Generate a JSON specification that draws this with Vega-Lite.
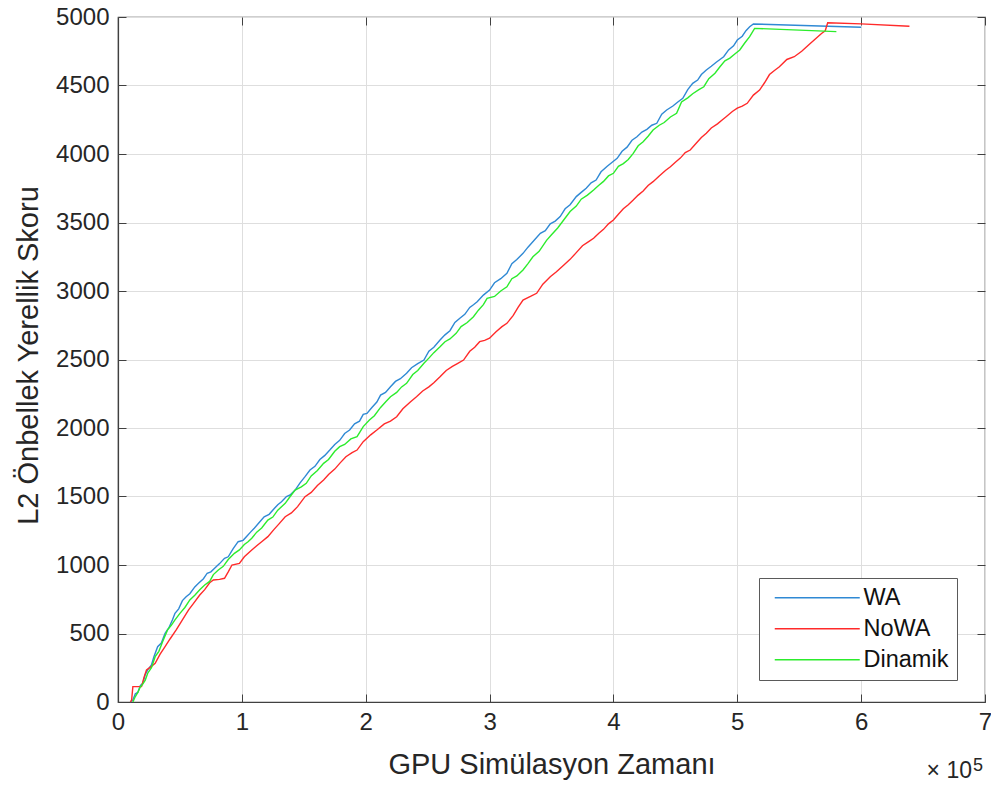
{
  "$schema": "https://vega.github.io/schema/vega-lite/v6.json",
  "width": 867,
  "height": 685,
  "autosize": {"type": "none"},
  "padding": {"left": 118, "top": 17, "right": 6, "bottom": 85},
  "background": "white",
  "config": {
    "view": {"stroke": "#404040", "strokeWidth": 1.2},
    "font": "Liberation Sans",
    "axis": {
      "labelFont": "Liberation Sans",
      "labelFontSize": 24,
      "labelColor": "#262626",
      "titleFont": "Liberation Sans",
      "titleFontSize": 29,
      "titleFontWeight": "normal",
      "titleColor": "#262626",
      "domainColor": "#404040",
      "domainWidth": 1.2,
      "tickColor": "#404040",
      "tickWidth": 1,
      "tickSize": -8,
      "gridColor": "#dedede",
      "gridWidth": 1
    },
    "legend": {
      "orient": "none",
      "legendX": 641,
      "legendY": 561,
      "padding": 8,
      "strokeColor": "#5a5a5a",
      "fillColor": "white",
      "symbolType": "M-1,0H16",
      "symbolSize": 100,
      "symbolStrokeWidth": 1.5,
      "symbolOffset": 1,
      "labelOffset": 72,
      "labelFont": "Liberation Sans",
      "labelFontSize": 23.5,
      "labelColor": "#111111",
      "rowPadding": 6,
      "cornerRadius": 0
    }
  },
  "datasets": {
    "series": [
      {"s":"WA","x":0.10,"y":0},{"s":"WA","x":0.12,"y":15},{"s":"WA","x":0.14,"y":60},{"s":"WA","x":0.16,"y":70},{"s":"WA","x":0.18,"y":120},{"s":"WA","x":0.20,"y":136},{"s":"WA","x":0.22,"y":200},{"s":"WA","x":0.24,"y":234},{"s":"WA","x":0.27,"y":270},{"s":"WA","x":0.29,"y":330},{"s":"WA","x":0.32,"y":404},{"s":"WA","x":0.35,"y":430},{"s":"WA","x":0.38,"y":501},{"s":"WA","x":0.41,"y":540},{"s":"WA","x":0.44,"y":600},{"s":"WA","x":0.46,"y":647},{"s":"WA","x":0.49,"y":680},{"s":"WA","x":0.52,"y":740},{"s":"WA","x":0.55,"y":769},{"s":"WA","x":0.58,"y":790},{"s":"WA","x":0.62,"y":840},{"s":"WA","x":0.65,"y":866},{"s":"WA","x":0.69,"y":900},{"s":"WA","x":0.72,"y":940},{"s":"WA","x":0.75,"y":950},{"s":"WA","x":0.78,"y":976},{"s":"WA","x":0.82,"y":1010},{"s":"WA","x":0.86,"y":1049},{"s":"WA","x":0.89,"y":1060},{"s":"WA","x":0.93,"y":1120},{"s":"WA","x":0.97,"y":1170},{"s":"WA","x":1.01,"y":1180},{"s":"WA","x":1.04,"y":1210},{"s":"WA","x":1.07,"y":1240},{"s":"WA","x":1.10,"y":1268},{"s":"WA","x":1.14,"y":1310},{"s":"WA","x":1.18,"y":1352},{"s":"WA","x":1.22,"y":1370},{"s":"WA","x":1.26,"y":1410},{"s":"WA","x":1.29,"y":1440},{"s":"WA","x":1.32,"y":1462},{"s":"WA","x":1.36,"y":1500},{"s":"WA","x":1.39,"y":1511},{"s":"WA","x":1.43,"y":1547},{"s":"WA","x":1.47,"y":1600},{"s":"WA","x":1.51,"y":1645},{"s":"WA","x":1.55,"y":1693},{"s":"WA","x":1.59,"y":1720},{"s":"WA","x":1.63,"y":1770},{"s":"WA","x":1.67,"y":1800},{"s":"WA","x":1.71,"y":1839},{"s":"WA","x":1.75,"y":1880},{"s":"WA","x":1.79,"y":1910},{"s":"WA","x":1.83,"y":1960},{"s":"WA","x":1.87,"y":1985},{"s":"WA","x":1.91,"y":2030},{"s":"WA","x":1.95,"y":2050},{"s":"WA","x":1.98,"y":2100},{"s":"WA","x":2.01,"y":2107},{"s":"WA","x":2.05,"y":2150},{"s":"WA","x":2.09,"y":2190},{"s":"WA","x":2.12,"y":2240},{"s":"WA","x":2.16,"y":2260},{"s":"WA","x":2.20,"y":2301},{"s":"WA","x":2.24,"y":2340},{"s":"WA","x":2.28,"y":2360},{"s":"WA","x":2.33,"y":2399},{"s":"WA","x":2.37,"y":2440},{"s":"WA","x":2.42,"y":2470},{"s":"WA","x":2.47,"y":2496},{"s":"WA","x":2.51,"y":2560},{"s":"WA","x":2.55,"y":2590},{"s":"WA","x":2.60,"y":2642},{"s":"WA","x":2.64,"y":2680},{"s":"WA","x":2.68,"y":2710},{"s":"WA","x":2.72,"y":2770},{"s":"WA","x":2.76,"y":2801},{"s":"WA","x":2.80,"y":2830},{"s":"WA","x":2.84,"y":2880},{"s":"WA","x":2.87,"y":2900},{"s":"WA","x":2.90,"y":2922},{"s":"WA","x":2.95,"y":2970},{"s":"WA","x":3.00,"y":3007},{"s":"WA","x":3.04,"y":3060},{"s":"WA","x":3.09,"y":3090},{"s":"WA","x":3.14,"y":3129},{"s":"WA","x":3.18,"y":3200},{"s":"WA","x":3.22,"y":3230},{"s":"WA","x":3.27,"y":3275},{"s":"WA","x":3.31,"y":3320},{"s":"WA","x":3.36,"y":3370},{"s":"WA","x":3.41,"y":3421},{"s":"WA","x":3.45,"y":3440},{"s":"WA","x":3.49,"y":3490},{"s":"WA","x":3.53,"y":3510},{"s":"WA","x":3.57,"y":3543},{"s":"WA","x":3.61,"y":3600},{"s":"WA","x":3.65,"y":3630},{"s":"WA","x":3.70,"y":3689},{"s":"WA","x":3.74,"y":3720},{"s":"WA","x":3.78,"y":3750},{"s":"WA","x":3.82,"y":3790},{"s":"WA","x":3.86,"y":3810},{"s":"WA","x":3.90,"y":3870},{"s":"WA","x":3.95,"y":3910},{"s":"WA","x":3.99,"y":3940},{"s":"WA","x":4.03,"y":3968},{"s":"WA","x":4.07,"y":4020},{"s":"WA","x":4.11,"y":4050},{"s":"WA","x":4.15,"y":4100},{"s":"WA","x":4.19,"y":4126},{"s":"WA","x":4.23,"y":4160},{"s":"WA","x":4.27,"y":4180},{"s":"WA","x":4.31,"y":4210},{"s":"WA","x":4.35,"y":4224},{"s":"WA","x":4.39,"y":4290},{"s":"WA","x":4.43,"y":4321},{"s":"WA","x":4.48,"y":4350},{"s":"WA","x":4.52,"y":4380},{"s":"WA","x":4.56,"y":4406},{"s":"WA","x":4.60,"y":4470},{"s":"WA","x":4.64,"y":4516},{"s":"WA","x":4.68,"y":4540},{"s":"WA","x":4.71,"y":4580},{"s":"WA","x":4.75,"y":4613},{"s":"WA","x":4.79,"y":4640},{"s":"WA","x":4.83,"y":4670},{"s":"WA","x":4.86,"y":4690},{"s":"WA","x":4.89,"y":4710},{"s":"WA","x":4.93,"y":4760},{"s":"WA","x":4.97,"y":4790},{"s":"WA","x":5.00,"y":4832},{"s":"WA","x":5.04,"y":4860},{"s":"WA","x":5.07,"y":4900},{"s":"WA","x":5.10,"y":4929},{"s":"WA","x":5.13,"y":4949},{"s":"WA","x":6.00,"y":4925},
      {"s":"NoWA","x":0.10,"y":0},{"s":"NoWA","x":0.11,"y":15},{"s":"NoWA","x":0.12,"y":112},{"s":"NoWA","x":0.19,"y":112},{"s":"NoWA","x":0.21,"y":180},{"s":"NoWA","x":0.23,"y":234},{"s":"NoWA","x":0.27,"y":260},{"s":"NoWA","x":0.30,"y":282},{"s":"NoWA","x":0.34,"y":350},{"s":"NoWA","x":0.38,"y":404},{"s":"NoWA","x":0.42,"y":460},{"s":"NoWA","x":0.47,"y":526},{"s":"NoWA","x":0.52,"y":600},{"s":"NoWA","x":0.57,"y":672},{"s":"NoWA","x":0.61,"y":720},{"s":"NoWA","x":0.66,"y":781},{"s":"NoWA","x":0.70,"y":820},{"s":"NoWA","x":0.74,"y":870},{"s":"NoWA","x":0.77,"y":891},{"s":"NoWA","x":0.82,"y":895},{"s":"NoWA","x":0.86,"y":903},{"s":"NoWA","x":0.89,"y":950},{"s":"NoWA","x":0.92,"y":1000},{"s":"NoWA","x":0.98,"y":1012},{"s":"NoWA","x":1.02,"y":1060},{"s":"NoWA","x":1.08,"y":1109},{"s":"NoWA","x":1.12,"y":1140},{"s":"NoWA","x":1.16,"y":1170},{"s":"NoWA","x":1.21,"y":1207},{"s":"NoWA","x":1.26,"y":1260},{"s":"NoWA","x":1.30,"y":1300},{"s":"NoWA","x":1.35,"y":1352},{"s":"NoWA","x":1.40,"y":1380},{"s":"NoWA","x":1.45,"y":1426},{"s":"NoWA","x":1.51,"y":1499},{"s":"NoWA","x":1.56,"y":1530},{"s":"NoWA","x":1.61,"y":1580},{"s":"NoWA","x":1.66,"y":1620},{"s":"NoWA","x":1.70,"y":1660},{"s":"NoWA","x":1.75,"y":1700},{"s":"NoWA","x":1.79,"y":1742},{"s":"NoWA","x":1.84,"y":1790},{"s":"NoWA","x":1.89,"y":1820},{"s":"NoWA","x":1.93,"y":1839},{"s":"NoWA","x":1.98,"y":1900},{"s":"NoWA","x":2.04,"y":1950},{"s":"NoWA","x":2.09,"y":1985},{"s":"NoWA","x":2.15,"y":2030},{"s":"NoWA","x":2.20,"y":2050},{"s":"NoWA","x":2.25,"y":2082},{"s":"NoWA","x":2.30,"y":2140},{"s":"NoWA","x":2.36,"y":2190},{"s":"NoWA","x":2.41,"y":2228},{"s":"NoWA","x":2.46,"y":2270},{"s":"NoWA","x":2.51,"y":2300},{"s":"NoWA","x":2.55,"y":2330},{"s":"NoWA","x":2.60,"y":2374},{"s":"NoWA","x":2.65,"y":2420},{"s":"NoWA","x":2.70,"y":2450},{"s":"NoWA","x":2.74,"y":2470},{"s":"NoWA","x":2.79,"y":2496},{"s":"NoWA","x":2.84,"y":2560},{"s":"NoWA","x":2.88,"y":2590},{"s":"NoWA","x":2.92,"y":2630},{"s":"NoWA","x":2.96,"y":2640},{"s":"NoWA","x":3.00,"y":2655},{"s":"NoWA","x":3.05,"y":2700},{"s":"NoWA","x":3.10,"y":2740},{"s":"NoWA","x":3.14,"y":2764},{"s":"NoWA","x":3.19,"y":2820},{"s":"NoWA","x":3.23,"y":2880},{"s":"NoWA","x":3.27,"y":2934},{"s":"NoWA","x":3.33,"y":2960},{"s":"NoWA","x":3.38,"y":2983},{"s":"NoWA","x":3.43,"y":3050},{"s":"NoWA","x":3.49,"y":3104},{"s":"NoWA","x":3.54,"y":3140},{"s":"NoWA","x":3.60,"y":3190},{"s":"NoWA","x":3.65,"y":3231},{"s":"NoWA","x":3.70,"y":3280},{"s":"NoWA","x":3.75,"y":3330},{"s":"NoWA","x":3.80,"y":3360},{"s":"NoWA","x":3.84,"y":3385},{"s":"NoWA","x":3.88,"y":3420},{"s":"NoWA","x":3.92,"y":3450},{"s":"NoWA","x":3.96,"y":3490},{"s":"NoWA","x":4.00,"y":3518},{"s":"NoWA","x":4.04,"y":3560},{"s":"NoWA","x":4.08,"y":3600},{"s":"NoWA","x":4.12,"y":3630},{"s":"NoWA","x":4.16,"y":3664},{"s":"NoWA","x":4.20,"y":3700},{"s":"NoWA","x":4.24,"y":3730},{"s":"NoWA","x":4.28,"y":3770},{"s":"NoWA","x":4.32,"y":3798},{"s":"NoWA","x":4.37,"y":3840},{"s":"NoWA","x":4.42,"y":3880},{"s":"NoWA","x":4.46,"y":3907},{"s":"NoWA","x":4.50,"y":3940},{"s":"NoWA","x":4.54,"y":3970},{"s":"NoWA","x":4.58,"y":4010},{"s":"NoWA","x":4.62,"y":4029},{"s":"NoWA","x":4.67,"y":4080},{"s":"NoWA","x":4.71,"y":4120},{"s":"NoWA","x":4.75,"y":4151},{"s":"NoWA","x":4.79,"y":4190},{"s":"NoWA","x":4.84,"y":4220},{"s":"NoWA","x":4.88,"y":4250},{"s":"NoWA","x":4.91,"y":4272},{"s":"NoWA","x":4.96,"y":4310},{"s":"NoWA","x":5.00,"y":4335},{"s":"NoWA","x":5.04,"y":4350},{"s":"NoWA","x":5.08,"y":4370},{"s":"NoWA","x":5.13,"y":4430},{"s":"NoWA","x":5.18,"y":4467},{"s":"NoWA","x":5.22,"y":4520},{"s":"NoWA","x":5.26,"y":4580},{"s":"NoWA","x":5.30,"y":4610},{"s":"NoWA","x":5.34,"y":4637},{"s":"NoWA","x":5.40,"y":4690},{"s":"NoWA","x":5.46,"y":4710},{"s":"NoWA","x":5.52,"y":4750},{"s":"NoWA","x":5.58,"y":4800},{"s":"NoWA","x":5.63,"y":4840},{"s":"NoWA","x":5.68,"y":4880},{"s":"NoWA","x":5.71,"y":4900},{"s":"NoWA","x":5.73,"y":4958},{"s":"NoWA","x":6.00,"y":4950},{"s":"NoWA","x":6.39,"y":4932},
      {"s":"Dinamik","x":0.12,"y":0},{"s":"Dinamik","x":0.14,"y":40},{"s":"Dinamik","x":0.16,"y":70},{"s":"Dinamik","x":0.18,"y":110},{"s":"Dinamik","x":0.20,"y":130},{"s":"Dinamik","x":0.22,"y":160},{"s":"Dinamik","x":0.24,"y":210},{"s":"Dinamik","x":0.27,"y":250},{"s":"Dinamik","x":0.30,"y":331},{"s":"Dinamik","x":0.33,"y":370},{"s":"Dinamik","x":0.36,"y":440},{"s":"Dinamik","x":0.40,"y":526},{"s":"Dinamik","x":0.43,"y":560},{"s":"Dinamik","x":0.46,"y":600},{"s":"Dinamik","x":0.50,"y":647},{"s":"Dinamik","x":0.54,"y":690},{"s":"Dinamik","x":0.58,"y":745},{"s":"Dinamik","x":0.62,"y":780},{"s":"Dinamik","x":0.66,"y":820},{"s":"Dinamik","x":0.70,"y":854},{"s":"Dinamik","x":0.74,"y":880},{"s":"Dinamik","x":0.77,"y":930},{"s":"Dinamik","x":0.81,"y":964},{"s":"Dinamik","x":0.85,"y":990},{"s":"Dinamik","x":0.89,"y":1040},{"s":"Dinamik","x":0.94,"y":1085},{"s":"Dinamik","x":0.98,"y":1110},{"s":"Dinamik","x":1.02,"y":1150},{"s":"Dinamik","x":1.05,"y":1170},{"s":"Dinamik","x":1.08,"y":1195},{"s":"Dinamik","x":1.12,"y":1240},{"s":"Dinamik","x":1.16,"y":1270},{"s":"Dinamik","x":1.21,"y":1328},{"s":"Dinamik","x":1.25,"y":1350},{"s":"Dinamik","x":1.29,"y":1400},{"s":"Dinamik","x":1.35,"y":1450},{"s":"Dinamik","x":1.39,"y":1500},{"s":"Dinamik","x":1.43,"y":1547},{"s":"Dinamik","x":1.48,"y":1570},{"s":"Dinamik","x":1.52,"y":1596},{"s":"Dinamik","x":1.56,"y":1650},{"s":"Dinamik","x":1.61,"y":1690},{"s":"Dinamik","x":1.66,"y":1742},{"s":"Dinamik","x":1.70,"y":1770},{"s":"Dinamik","x":1.75,"y":1830},{"s":"Dinamik","x":1.79,"y":1864},{"s":"Dinamik","x":1.83,"y":1880},{"s":"Dinamik","x":1.88,"y":1920},{"s":"Dinamik","x":1.93,"y":1937},{"s":"Dinamik","x":1.98,"y":2010},{"s":"Dinamik","x":2.03,"y":2058},{"s":"Dinamik","x":2.07,"y":2090},{"s":"Dinamik","x":2.12,"y":2150},{"s":"Dinamik","x":2.16,"y":2190},{"s":"Dinamik","x":2.20,"y":2228},{"s":"Dinamik","x":2.25,"y":2260},{"s":"Dinamik","x":2.29,"y":2300},{"s":"Dinamik","x":2.33,"y":2326},{"s":"Dinamik","x":2.38,"y":2390},{"s":"Dinamik","x":2.42,"y":2420},{"s":"Dinamik","x":2.47,"y":2472},{"s":"Dinamik","x":2.51,"y":2510},{"s":"Dinamik","x":2.55,"y":2550},{"s":"Dinamik","x":2.60,"y":2593},{"s":"Dinamik","x":2.64,"y":2630},{"s":"Dinamik","x":2.68,"y":2650},{"s":"Dinamik","x":2.73,"y":2691},{"s":"Dinamik","x":2.77,"y":2740},{"s":"Dinamik","x":2.82,"y":2770},{"s":"Dinamik","x":2.87,"y":2812},{"s":"Dinamik","x":2.91,"y":2860},{"s":"Dinamik","x":2.95,"y":2900},{"s":"Dinamik","x":2.98,"y":2946},{"s":"Dinamik","x":3.04,"y":2960},{"s":"Dinamik","x":3.09,"y":3000},{"s":"Dinamik","x":3.14,"y":3031},{"s":"Dinamik","x":3.18,"y":3090},{"s":"Dinamik","x":3.22,"y":3110},{"s":"Dinamik","x":3.27,"y":3153},{"s":"Dinamik","x":3.31,"y":3200},{"s":"Dinamik","x":3.35,"y":3250},{"s":"Dinamik","x":3.40,"y":3290},{"s":"Dinamik","x":3.46,"y":3370},{"s":"Dinamik","x":3.50,"y":3410},{"s":"Dinamik","x":3.55,"y":3460},{"s":"Dinamik","x":3.60,"y":3520},{"s":"Dinamik","x":3.65,"y":3580},{"s":"Dinamik","x":3.70,"y":3620},{"s":"Dinamik","x":3.74,"y":3670},{"s":"Dinamik","x":3.79,"y":3700},{"s":"Dinamik","x":3.84,"y":3737},{"s":"Dinamik","x":3.88,"y":3770},{"s":"Dinamik","x":3.92,"y":3800},{"s":"Dinamik","x":3.96,"y":3840},{"s":"Dinamik","x":4.00,"y":3859},{"s":"Dinamik","x":4.04,"y":3910},{"s":"Dinamik","x":4.08,"y":3930},{"s":"Dinamik","x":4.12,"y":3960},{"s":"Dinamik","x":4.16,"y":4005},{"s":"Dinamik","x":4.20,"y":4060},{"s":"Dinamik","x":4.24,"y":4090},{"s":"Dinamik","x":4.28,"y":4130},{"s":"Dinamik","x":4.32,"y":4175},{"s":"Dinamik","x":4.37,"y":4210},{"s":"Dinamik","x":4.41,"y":4230},{"s":"Dinamik","x":4.46,"y":4270},{"s":"Dinamik","x":4.51,"y":4297},{"s":"Dinamik","x":4.55,"y":4380},{"s":"Dinamik","x":4.60,"y":4410},{"s":"Dinamik","x":4.64,"y":4440},{"s":"Dinamik","x":4.69,"y":4470},{"s":"Dinamik","x":4.73,"y":4491},{"s":"Dinamik","x":4.77,"y":4550},{"s":"Dinamik","x":4.82,"y":4590},{"s":"Dinamik","x":4.86,"y":4637},{"s":"Dinamik","x":4.90,"y":4680},{"s":"Dinamik","x":4.94,"y":4700},{"s":"Dinamik","x":4.98,"y":4730},{"s":"Dinamik","x":5.02,"y":4759},{"s":"Dinamik","x":5.06,"y":4810},{"s":"Dinamik","x":5.10,"y":4856},{"s":"Dinamik","x":5.14,"y":4917},{"s":"Dinamik","x":5.80,"y":4893}
    ],
    "mult": [{"x": 7, "y": 0}]
  },
  "layer": [
    {
      "data": {"name": "series"},
      "mark": {"type": "line", "strokeWidth": 1.4},
      "encoding": {
        "x": {
          "field": "x", "type": "quantitative",
          "scale": {"domain": [0, 7], "nice": false, "zero": false},
          "axis": {
            "orient": "bottom", "title": "GPU Simülasyon Zamanı",
            "values": [0, 1, 2, 3, 4, 5, 6, 7], "grid": true,
            "labelPadding": 16, "labelFlush": false,
            "titleBaseline": "alphabetic", "titleAlign": "center", "titleY": 71
          }
        },
        "y": {
          "field": "y", "type": "quantitative",
          "scale": {"domain": [0, 5000], "nice": false},
          "axis": {
            "orient": "left", "title": "L2 Önbellek Yerellik Skoru",
            "values": [0, 500, 1000, 1500, 2000, 2500, 3000, 3500, 4000, 4500, 5000],
            "format": "d", "grid": true, "labelPadding": 17, "labelFlush": false,
            "titleBaseline": "alphabetic", "titleAlign": "center", "titleAngle": 270,
            "titleX": -81, "titleY": 338
          }
        },
        "color": {
          "field": "s", "type": "nominal",
          "scale": {"domain": ["WA", "NoWA", "Dinamik"], "range": ["#2f89d4", "#ff2a2a", "#2cec2c"]},
          "legend": {"title": null}
        }
      }
    },
    {
      "data": {"name": "mult"},
      "mark": {"type": "text", "text": "× 10", "align": "right", "baseline": "alphabetic", "dx": -13, "dy": 76, "fontSize": 23, "font": "Liberation Sans", "color": "#262626"},
      "encoding": {
        "x": {"field": "x", "type": "quantitative", "axis": {"orient": "top", "labels": false, "grid": false, "domain": false, "title": null, "values": [0, 1, 2, 3, 4, 5, 6, 7]}},
        "y": {"field": "y", "type": "quantitative", "axis": {"orient": "right", "labels": false, "grid": false, "domain": false, "title": null, "values": [0, 500, 1000, 1500, 2000, 2500, 3000, 3500, 4000, 4500, 5000]}}
      }
    },
    {
      "data": {"name": "mult"},
      "mark": {"type": "text", "text": "5", "align": "left", "baseline": "alphabetic", "dx": -12, "dy": 69, "fontSize": 18, "font": "Liberation Sans", "color": "#262626"},
      "encoding": {
        "x": {"field": "x", "type": "quantitative", "axis": null},
        "y": {"field": "y", "type": "quantitative", "axis": null}
      }
    }
  ],
  "resolve": {"axis": {"x": "independent", "y": "independent"}}
}
